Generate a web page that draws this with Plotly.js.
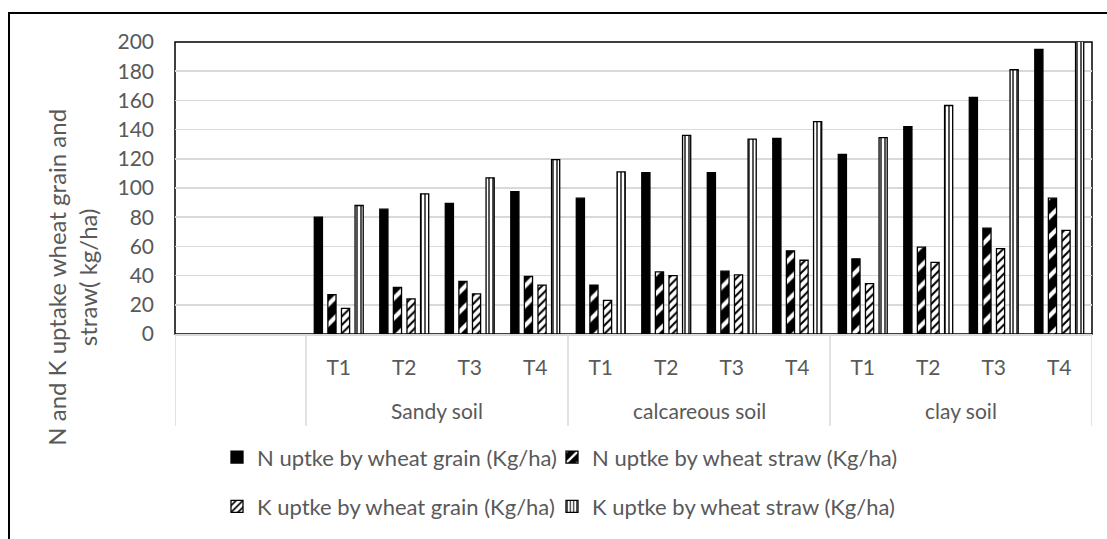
<!DOCTYPE html>
<html><head><meta charset="utf-8">
<script src="https://cdn.plot.ly/plotly-3.0.1.min.js"></script>
<style>
html,body{margin:0;padding:0;background:#fff;}
#chart{width:1107px;height:539px;}
#frame{position:absolute;left:8px;top:12px;width:1200px;height:600px;border-left:2px solid #000;border-top:2px solid #000;pointer-events:none;}
</style>
</head><body>
<div id="chart"></div><div id="frame"></div>
<script>
const groups = ["", "", "Sandy soil", "Sandy soil", "Sandy soil", "Sandy soil",
  "calcareous soil", "calcareous soil", "calcareous soil", "calcareous soil",
  "clay soil", "clay soil", "clay soil", "clay soil"];
const treatments = ["", "", "T1", "T2", "T3", "T4", "T1", "T2", "T3", "T4", "T1", "T2", "T3", "T4"];
const nGrain = [null, null, 80, 85.5, 89.5, 97.5, 93, 110.5, 110.5, 134, 123, 142, 162, 195];
const nStraw = [null, null, 27, 32, 36, 39.5, 33.5, 42.5, 43, 57, 51.5, 59.5, 72.5, 93];
const kGrain = [null, null, 17.5, 24, 27.5, 33.5, 23, 40, 40.5, 50.5, 34.5, 49, 58.5, 71];
const kStraw = [null, null, 88, 96, 107, 119.5, 111, 136, 133.5, 145.5, 134.5, 156.5, 181, 210];
const seriesNames = ["N uptke by wheat grain (Kg/ha)", "N uptke by wheat straw (Kg/ha)",
  "K uptke by wheat grain (Kg/ha)", "K uptke by wheat straw (Kg/ha)"];
const yTitle = "N and K uptake wheat grain and<br>straw( kg/ha)";

const FONT = "Lato, 'Open Sans', sans-serif";
const GREY = "#595959";
const cats = groups.map((g, i) => i + ":" + g + ":" + treatments[i]);

const line = {color: "#000", width: 1.3};
const traces = [
  {name: seriesNames[0], y: nGrain, legend: "legend", marker: {color: "#000", line: line}},
  {name: seriesNames[1], y: nStraw, legend: "legend2", marker: {color: "#000", line: line,
    pattern: {shape: "/", fgcolor: "#fff", bgcolor: "#000", size: 14, solidity: 0.3}}},
  {name: seriesNames[2], y: kGrain, legend: "legend3", marker: {color: "#fff", line: line,
    pattern: {shape: "/", fgcolor: "#000", bgcolor: "#fff", size: 6, solidity: 0.35}}},
  {name: seriesNames[3], y: kStraw, legend: "legend4", marker: {color: "#fff", line: line,
    pattern: {shape: "|", fgcolor: "#444", bgcolor: "#fff", size: 4, solidity: 0.45}}}
].map(t => Object.assign({type: "bar", x: cats, hoverinfo: "skip"}, t));

// group boundaries and centres
const bounds = [-0.5];
const groupLabels = [];
let start = 0;
for (let i = 1; i <= groups.length; i++) {
  if (i === groups.length || groups[i] !== groups[start]) {
    bounds.push(i - 0.5);
    if (groups[start] !== "") groupLabels.push({name: groups[start], pos: (start + i - 1) / 2});
    start = i;
  }
}

const L = 175, R = 15, T = 42, B = 201, H = 539, W = 1107;
const ph = H - T - B, pw = W - L - R;
const py = px => (H - B - px) / ph;   // pixel y -> paper y
const pxx = px => (px - L) / pw;      // pixel x -> paper x

const shapes = bounds.map(b => ({type: "line", xref: "x", yref: "paper", x0: b, x1: b,
  y0: 0, y1: py(431), line: {color: "#d9d9d9", width: 1.5}}));
shapes.push({type: "rect", xref: "paper", yref: "paper", x0: 0, x1: 1, y0: 0, y1: 1,
  line: {color: "#000", width: 1.5}, layer: "below"});

const annotations = groupLabels.map(g => ({xref: "x", yref: "paper", x: g.pos, y: py(416),
  text: g.name, showarrow: false, xanchor: "center", yanchor: "middle",
  font: {family: FONT, size: 21, color: GREY}}));
annotations.push({xref: "paper", yref: "paper", x: pxx(72), y: py(281), text: yTitle,
  textangle: -90, showarrow: false, xanchor: "center", yanchor: "middle",
  font: {family: FONT, size: 24, color: GREY}});

const legendBase = {orientation: "h", xanchor: "left", yanchor: "middle",
  font: {family: FONT, size: 22, color: GREY}, bgcolor: "rgba(0,0,0,0)"};
const col = [pxx(217), pxx(552)], row = [py(463), py(513)];

const layout = {
  width: W, height: H,
  margin: {l: L, r: R, t: T, b: B, pad: 0},
  paper_bgcolor: "#fff", plot_bgcolor: "#fff",
  barmode: "group", bargap: 0.17, bargroupgap: 0.4,
  hovermode: false,
  font: {family: FONT, color: GREY},
  xaxis: {type: "category", categoryorder: "array", categoryarray: cats,
    tickvals: cats, ticktext: treatments, ticks: "", showgrid: false,
    showline: true, linecolor: "#d9d9d9", linewidth: 1.5,
    tickfont: {family: FONT, size: 21, color: GREY}, ticklabelstandoff: 14,
    range: [-0.5, groups.length - 0.5], fixedrange: true},
  yaxis: {range: [0, 200], dtick: 20, tick0: 0, showgrid: true, gridcolor: "#d9d9d9",
    gridwidth: 1.5, zeroline: false, showline: false, ticks: "",
    tickfont: {family: FONT, size: 21, color: GREY}, ticklabelstandoff: 20, fixedrange: true},
  showlegend: true,
  legend: Object.assign({}, legendBase, {x: col[0], y: row[0]}),
  legend2: Object.assign({}, legendBase, {x: col[1], y: row[0]}),
  legend3: Object.assign({}, legendBase, {x: col[0], y: row[1]}),
  legend4: Object.assign({}, legendBase, {x: col[1], y: row[1]}),
  shapes: shapes,
  annotations: annotations
};

Plotly.newPlot("chart", traces, layout, {staticPlot: true, displayModeBar: false});
</script>
</body></html>
